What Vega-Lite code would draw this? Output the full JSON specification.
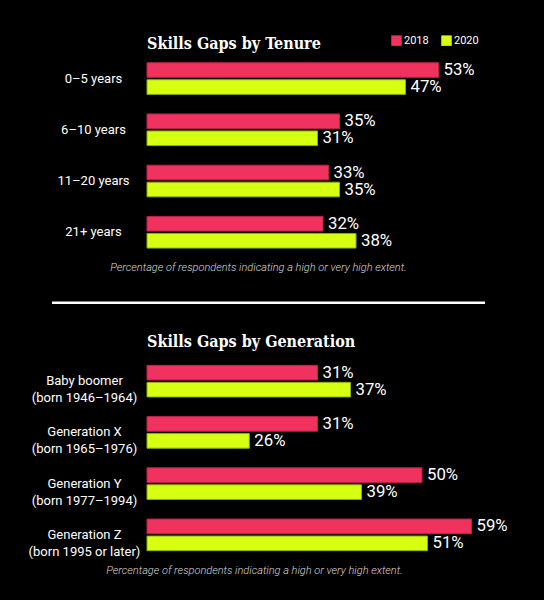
{
  "$schema": "https://vega.github.io/schema/vega-lite/v6.json",
  "background": "#000000",
  "padding": {"left": 28, "top": 35, "right": 40, "bottom": 25},
  "bounds": "flush",
  "spacing": 44.8,
  "config": {
    "view": {"stroke": null},
    "font": "Roboto",
    "axis": {"domain": false, "ticks": false, "grid": false, "tickSize": 0},
    "legend": {"labelFont": "Roboto", "labelFontSize": 11, "labelColor": "#ffffff", "symbolType": "square", "symbolSize": 110, "symbolStrokeWidth": 0, "labelOffset": 2, "columnPadding": 12, "padding": 0}
  },
  "datasets": {
    "tenure": [
      {"group": "0–5 years", "year": "2018", "value": 0.53, "bar": 0.53},
      {"group": "0–5 years", "year": "2020", "value": 0.47, "bar": 0.47},
      {"group": "6–10 years", "year": "2018", "value": 0.35, "bar": 0.35},
      {"group": "6–10 years", "year": "2020", "value": 0.31, "bar": 0.31},
      {"group": "11–20 years", "year": "2018", "value": 0.33, "bar": 0.33},
      {"group": "11–20 years", "year": "2020", "value": 0.35, "bar": 0.35},
      {"group": "21+ years", "year": "2018", "value": 0.32, "bar": 0.32},
      {"group": "21+ years", "year": "2020", "value": 0.38, "bar": 0.38}
    ],
    "generation": [
      {"group": "Baby boomer|(born 1946–1964)", "year": "2018", "value": 0.31, "bar": 0.31},
      {"group": "Baby boomer|(born 1946–1964)", "year": "2020", "value": 0.37, "bar": 0.37},
      {"group": "Generation X|(born 1965–1976)", "year": "2018", "value": 0.31, "bar": 0.31},
      {"group": "Generation X|(born 1965–1976)", "year": "2020", "value": 0.26, "bar": 0.186},
      {"group": "Generation Y|(born 1977–1994)", "year": "2018", "value": 0.50, "bar": 0.50},
      {"group": "Generation Y|(born 1977–1994)", "year": "2020", "value": 0.39, "bar": 0.39},
      {"group": "Generation Z|(born 1995 or later)", "year": "2018", "value": 0.59, "bar": 0.59},
      {"group": "Generation Z|(born 1995 or later)", "year": "2020", "value": 0.51, "bar": 0.51}
    ]
  },
  "vconcat": [
    {
      "width": 330,
      "height": 204.8,
      "data": {"name": "tenure"},
      "title": {"text": "Skills Gaps by Tenure", "anchor": "start", "frame": "group", "font": "'DejaVu Serif Condensed', 'DejaVu Serif', serif", "fontWeight": "bold", "fontSize": 16, "color": "#ffffff", "baseline": "alphabetic", "offset": -11.6},
      "encoding": {
        "y": {"field": "group", "type": "nominal", "sort": null, "scale": {"paddingInner": 0.383, "paddingOuter": 0.19}, "axis": {"title": null, "labelAlign": "center", "labelPadding": 54, "labelFontSize": 13, "labelColor": "#ffffff", "labelFont": "Roboto"}},
        "yOffset": {"field": "year", "type": "nominal", "scale": {"paddingInner": 0.14, "paddingOuter": 0}},
        "x": {"field": "bar", "type": "quantitative", "scale": {"domain": [0, 0.6], "nice": false}, "axis": {"title": "Percentage of respondents indicating a high or very high extent.", "labels": false, "titleFont": "Roboto", "titleFontStyle": "italic", "titleFontWeight": 300, "titleFontSize": 11, "titleColor": "#d9d9d9", "titleAnchor": "start", "titleAlign": "center", "titleBaseline": "middle", "titleX": 111, "titleY": 9.5}}
      },
      "layer": [
        {
          "mark": {"type": "bar", "strokeWidth": 1},
          "encoding": {
            "color": {"field": "year", "type": "nominal", "scale": {"domain": ["2018", "2020"], "range": ["#f0325e", "#d7ff12"]}, "legend": {"title": null, "orient": "none", "direction": "horizontal", "legendX": 244, "legendY": -18}},
            "stroke": {"field": "year", "type": "nominal", "scale": {"domain": ["2018", "2020"], "range": ["#b8244a", "#93ad0c"]}, "legend": null}
          }
        },
        {
          "mark": {"type": "text", "align": "left", "baseline": "middle", "dx": 5, "fontSize": 16.8, "font": "Roboto", "color": "#ffffff"},
          "encoding": {"text": {"field": "value", "type": "quantitative", "format": ".0%"}}
        }
      ]
    },
    {
      "width": 330,
      "height": 7.9,
      "data": {"values": [{}]},
      "mark": {"type": "rule", "color": "#ffffff", "strokeWidth": 2.5},
      "encoding": {
        "x": {"datum": -0.1727, "type": "quantitative", "scale": {"domain": [0, 0.6], "nice": false}, "axis": null},
        "x2": {"datum": 0.6145},
        "y": {"datum": 1, "type": "quantitative", "scale": {"domain": [0, 1]}, "axis": null}
      }
    },
    {
      "width": 330,
      "height": 204.8,
      "data": {"name": "generation"},
      "title": {"text": "Skills Gaps by Generation", "anchor": "start", "frame": "group", "font": "'DejaVu Serif Condensed', 'DejaVu Serif', serif", "fontWeight": "bold", "fontSize": 16, "color": "#ffffff", "baseline": "alphabetic", "offset": -7.5},
      "encoding": {
        "y": {"field": "group", "type": "nominal", "sort": null, "scale": {"paddingInner": 0.383, "paddingOuter": 0.19}, "axis": {"title": null, "labelAlign": "center", "labelPadding": 63, "labelFontSize": 13, "labelColor": "#ffffff", "labelFont": "Roboto", "labelExpr": "split(datum.label, '|')", "labelLineHeight": 17}},
        "yOffset": {"field": "year", "type": "nominal", "scale": {"paddingInner": 0.14, "paddingOuter": 0}},
        "x": {"field": "bar", "type": "quantitative", "scale": {"domain": [0, 0.6], "nice": false}, "axis": {"title": "Percentage of respondents indicating a high or very high extent.", "labels": false, "titleFont": "Roboto", "titleFontStyle": "italic", "titleFontWeight": 300, "titleFontSize": 11, "titleColor": "#d9d9d9", "titleAnchor": "start", "titleAlign": "center", "titleBaseline": "middle", "titleX": 107, "titleY": 10}}
      },
      "layer": [
        {
          "mark": {"type": "bar", "strokeWidth": 1},
          "encoding": {
            "color": {"field": "year", "type": "nominal", "scale": {"domain": ["2018", "2020"], "range": ["#f0325e", "#d7ff12"]}, "legend": {"title": null, "orient": "none", "direction": "horizontal", "legendX": 242, "legendY": -15.7}},
            "stroke": {"field": "year", "type": "nominal", "scale": {"domain": ["2018", "2020"], "range": ["#b8244a", "#93ad0c"]}, "legend": null}
          }
        },
        {
          "mark": {"type": "text", "align": "left", "baseline": "middle", "dx": 5, "fontSize": 16.8, "font": "Roboto", "color": "#ffffff"},
          "encoding": {"text": {"field": "value", "type": "quantitative", "format": ".0%"}}
        }
      ]
    }
  ]
}
